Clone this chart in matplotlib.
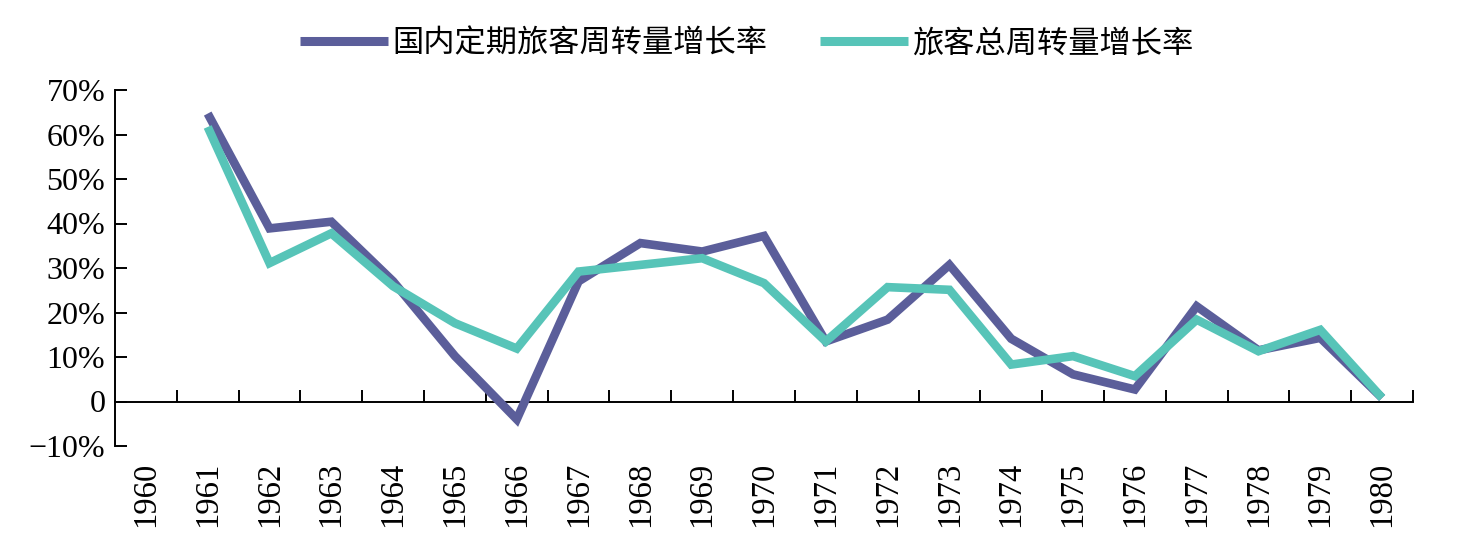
import matplotlib.pyplot as plt
import numpy as np

# years on the category axis, growth rates in percent (1960 has no value)
years = [str(y) for y in range(1960, 1981)]
domestic_rate = [np.nan, 64.7, 38.9, 40.4, 27.0, 10.2, -4.0, 27.0, 35.6, 33.7, 37.2,
                 13.5, 18.4, 30.7, 14.1, 6.1, 2.7, 21.4, 11.5, 14.3, 0.8]
total_rate = [np.nan, 61.7, 31.1, 37.8, 25.9, 17.6, 11.9, 29.2, 30.7, 32.2, 26.6,
              13.5, 25.7, 25.1, 8.3, 10.2, 5.7, 18.4, 11.3, 16.1, 0.8]
y_ticks = [-10, 0, 10, 20, 30, 40, 50, 60, 70]
y_labels = ['\u221210%', '0', '10%', '20%', '30%', '40%', '50%', '60%', '70%']
series_names = ['国内定期旅客周转量增长率', '旅客总周转量增长率']

plt.rcParams['font.family'] = ['Liberation Serif', 'Noto Sans CJK SC', 'DejaVu Sans']

fig = plt.figure(figsize=(14.79, 5.55), dpi=100)
ax = fig.add_axes([115 / 1479, 109 / 555, 1298 / 1479, 356 / 555])

x = np.arange(len(years))
ax.plot(x, domestic_rate, color='#5b5e9a', lw=6.2, solid_joinstyle='miter',
        solid_capstyle='butt', label=series_names[0])
ax.plot(x, total_rate, color='#57c4b8', lw=6.2, solid_joinstyle='miter',
        solid_capstyle='butt', label=series_names[1])

ax.set_xlim(-0.5, len(years) - 0.5)
ax.set_ylim(-10, 70)

# y axis: ticks pointing inward
ax.set_yticks(y_ticks)
ax.set_yticklabels(y_labels)
ax.tick_params(axis='y', direction='in', length=8.5, width=1.4, labelsize=23, pad=7)
ax.spines['left'].set_linewidth(1.4)
for s in ['top', 'right', 'bottom']:
    ax.spines[s].set_visible(False)

# category labels at the bottom of the axes
ax.set_xticks(x)
ax.set_xticklabels(years, rotation=90, fontsize=23.5)
ax.tick_params(axis='x', length=0, pad=11)

# zero line with ticks at category boundaries
zero_frac = (0 - (-10)) / 80
sec = ax.secondary_xaxis(zero_frac)
sec.set_xticks(np.arange(-0.5, len(years), 1.0)[1:])
sec.set_xticklabels([])
sec.tick_params(direction='in', length=8.5, width=1.4)
sec.spines['bottom'].set_linewidth(1.4)

leg = fig.legend(loc='center', bbox_to_anchor=(0.505, 0.922), ncol=2, frameon=False,
                 handlelength=2.8, handletextpad=0.15, columnspacing=1.7,
                 prop={'family': ['Noto Sans CJK SC'], 'size': 22.5})
for line in leg.get_lines():
    line.set_linewidth(6.5)

fig.savefig('out.png', dpi=100)
